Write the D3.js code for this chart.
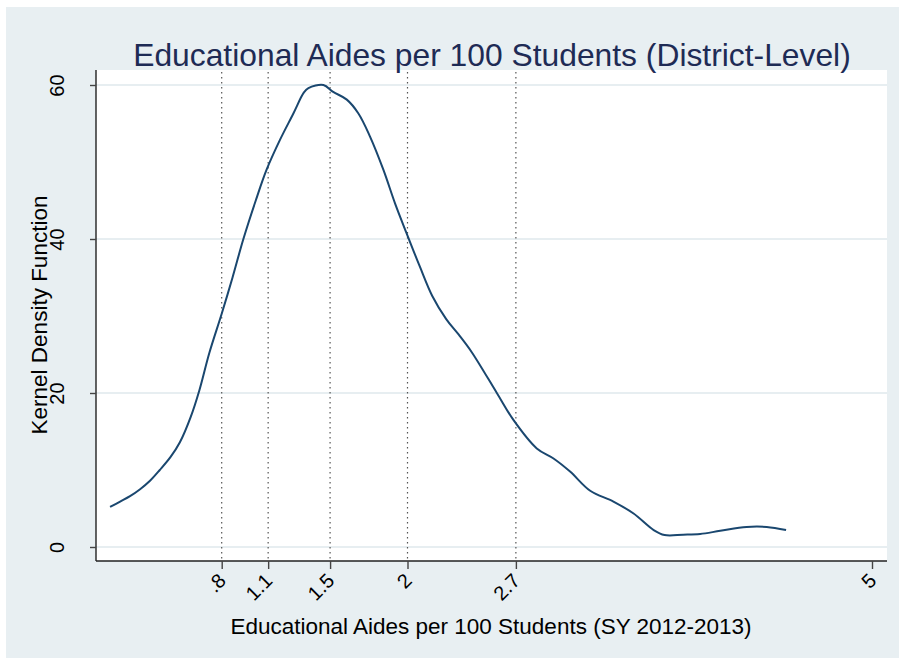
<!DOCTYPE html>
<html>
<head>
<meta charset="utf-8">
<script src="https://cdn.jsdelivr.net/npm/d3@7"></script>
<style>
  html, body { margin: 0; padding: 0; background: #ffffff; }
  svg { display: block; }
  text { font-family: "Liberation Sans", Arial, Helvetica, sans-serif; }
</style>
</head>
<body>
<div id="chart"></div>
<script>
// Kernel density estimate of educational aides per 100 students
const densityX = [0.079, 0.144, 0.208, 0.273, 0.337, 0.40, 0.47, 0.53, 0.60, 0.655,
  0.72, 0.80, 0.87, 0.94, 1.02, 1.09, 1.177, 1.263, 1.33, 1.36,
  1.457, 1.52, 1.608, 1.683, 1.758, 1.844, 1.92, 1.995, 2.08, 2.16,
  2.25, 2.33, 2.415, 2.577, 2.684, 2.835, 2.943, 3.05, 3.18, 3.33,
  3.46, 3.59, 3.66, 3.78, 3.89, 4.02, 4.19, 4.32, 4.445];
const densityY = [5.2, 5.9, 6.6, 7.5, 8.6, 10.0, 11.7, 13.6, 16.9, 20.3,
  25.2, 30.3, 35.0, 40.0, 45.0, 49.0, 52.9, 56.3, 59.0, 59.6,
  60.0, 59.1, 58.1, 56.3, 53.3, 49.0, 44.6, 40.7, 36.4, 32.6,
  29.6, 27.6, 25.3, 20.0, 16.5, 12.8, 11.5, 9.8, 7.3, 5.9,
  4.35, 2.2, 1.56, 1.6, 1.69, 2.1, 2.6, 2.6, 2.2];

// Axis ticks and reference lines
const xTicks = [0.8, 1.1, 1.5, 2, 2.7, 5];
const xTickLabels = [".8", "1.1", "1.5", "2", "2.7", "5"];
const refLines = [0.8, 1.1, 1.5, 2, 2.7];
const yTicks = [0, 20, 40, 60];

const titleText = "Educational Aides per 100 Students (District-Level)";
const xTitle = "Educational Aides per 100 Students (SY 2012-2013)";
const yTitle = "Kernel Density Function";

const W = 899, H = 658;
const plot = { left: 96, right: 887, top: 70, bottom: 561 };

const svg = d3.select("#chart").append("svg")
  .attr("width", W).attr("height", H);

// Graph region background
svg.append("rect").attr("x", 6).attr("y", 7)
  .attr("width", W - 6).attr("height", H - 7)
  .attr("fill", "#e8eff2");

// Plot region
svg.append("rect")
  .attr("x", plot.left).attr("y", plot.top)
  .attr("width", plot.right - plot.left).attr("height", plot.bottom - plot.top)
  .attr("fill", "#ffffff");

const x = d3.scaleLinear().domain([0.8, 5]).range([221.7, 872]);
const y = d3.scaleLinear().domain([0, 60]).range([547, 85]);

// Horizontal grid lines
svg.append("g").selectAll("line").data(yTicks).join("line")
  .attr("x1", plot.left).attr("x2", plot.right)
  .attr("y1", d => y(d)).attr("y2", d => y(d))
  .attr("stroke", "#e7eef1").attr("stroke-width", 2);

// Dotted reference lines
svg.append("g").selectAll("line").data(refLines).join("line")
  .attr("x1", d => x(d)).attr("x2", d => x(d))
  .attr("y1", plot.top + 2).attr("y2", plot.bottom)
  .attr("stroke", "#555555").attr("stroke-width", 1.2)
  .attr("stroke-dasharray", "1.4,3.6");

// Density curve
const pts = densityX.map((v, i) => [v, densityY[i]]);
svg.append("path").datum(pts)
  .attr("fill", "none")
  .attr("stroke", "#1a476f")
  .attr("stroke-width", 2)
  .attr("stroke-linejoin", "round")
  .attr("d", d3.line().x(d => x(d[0])).y(d => y(d[1])).curve(d3.curveCatmullRom.alpha(0.5)));

// Y axis
const yAxis = svg.append("g")
  .attr("transform", `translate(${plot.left},0)`)
  .call(d3.axisLeft(y).tickValues(yTicks).tickSize(6).tickFormat(d3.format("d")));
yAxis.attr("font-size", null).attr("font-family", null);
yAxis.select(".domain").attr("d", `M0,${plot.top}V${plot.bottom}`)
  .attr("stroke", "#222").attr("stroke-width", 1.4);
yAxis.selectAll(".tick line").attr("stroke", "#444").attr("stroke-width", 1.4);
yAxis.selectAll(".tick text")
  .attr("x", null).attr("dy", null)
  .attr("text-anchor", "middle")
  .attr("transform", "translate(-32,0) rotate(-90)")
  .style("font-size", "20px").attr("fill", "#000");

// X axis
const xAxis = svg.append("g")
  .attr("transform", `translate(0,${plot.bottom})`)
  .call(d3.axisBottom(x).tickValues(xTicks).tickSize(8)
    .tickFormat((d, i) => xTickLabels[i]));
xAxis.attr("font-size", null).attr("font-family", null);
xAxis.select(".domain").attr("d", `M${plot.left},0H${plot.right}`)
  .attr("stroke", "#222").attr("stroke-width", 1.4);
xAxis.selectAll(".tick line").attr("stroke", "#444").attr("stroke-width", 1.4);
xAxis.selectAll(".tick text")
  .attr("y", null).attr("dy", null)
  .attr("text-anchor", "end")
  .attr("transform", "translate(5,21) rotate(-45)")
  .style("font-size", "20px").attr("fill", "#000");

// Titles
svg.append("text").attr("x", 492).attr("y", 66)
  .attr("text-anchor", "middle").attr("font-size", 31.8)
  .attr("fill", "#1e2b55").text(titleText);

svg.append("text").attr("x", 491).attr("y", 634)
  .attr("text-anchor", "middle").attr("font-size", 22.5)
  .attr("fill", "#000").text(xTitle);

svg.append("text")
  .attr("transform", "translate(47,315) rotate(-90)")
  .attr("text-anchor", "middle").attr("font-size", 22.5)
  .attr("fill", "#000").text(yTitle);
</script>
</body>
</html>
